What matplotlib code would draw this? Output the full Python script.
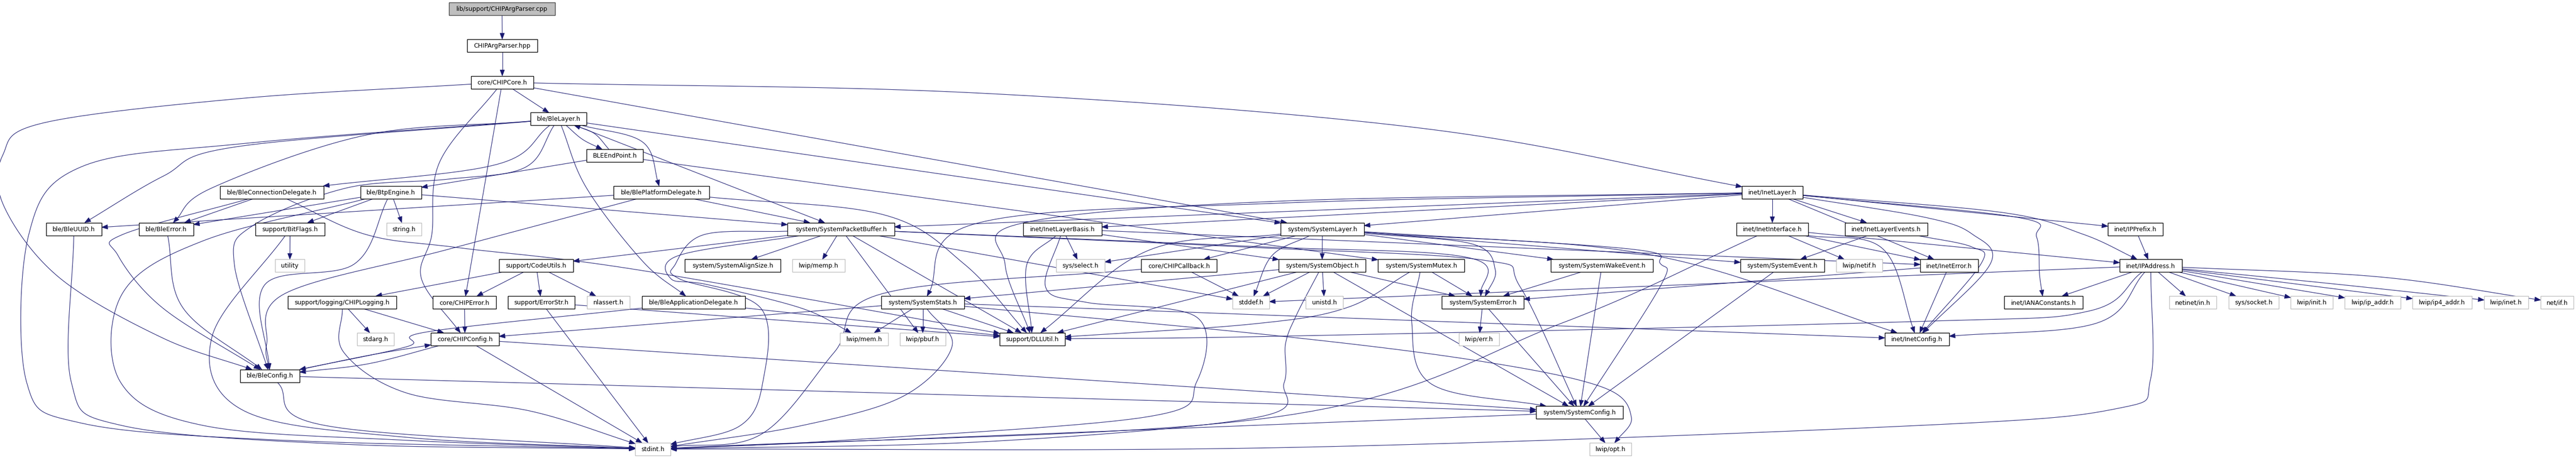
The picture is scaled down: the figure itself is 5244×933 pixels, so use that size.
import matplotlib
matplotlib.use("Agg")
import matplotlib.pyplot as plt
from matplotlib.patches import Rectangle, Polygon
import numpy as np

W, H = 5244, 933

# ---- graph data -------------------------------------------------------
ROOT = "lib/support/CHIPArgParser.cpp"

HEADERS = [
    "CHIPArgParser.hpp", "core/CHIPCore.h", "ble/BleLayer.h", "BLEEndPoint.h",
    "ble/BleConnectionDelegate.h", "ble/BtpEngine.h", "ble/BlePlatformDelegate.h",
    "ble/BleUUID.h", "ble/BleError.h", "support/BitFlags.h", "support/CodeUtils.h",
    "support/logging/CHIPLogging.h", "core/CHIPError.h", "support/ErrorStr.h",
    "core/CHIPConfig.h", "ble/BleConfig.h", "ble/BleApplicationDelegate.h",
    "system/SystemPacketBuffer.h", "system/SystemAlignSize.h", "inet/InetLayerBasis.h",
    "core/CHIPCallback.h", "system/SystemStats.h", "support/DLLUtil.h",
    "inet/InetLayer.h", "system/SystemLayer.h", "inet/InetInterface.h",
    "inet/InetLayerEvents.h", "system/SystemObject.h", "system/SystemMutex.h",
    "system/SystemWakeEvent.h", "system/SystemEvent.h", "inet/InetError.h",
    "system/SystemError.h", "inet/InetConfig.h", "system/SystemConfig.h",
    "inet/IPPrefix.h", "inet/IPAddress.h", "inet/IANAConstants.h",
]

SYSTEM_HEADERS = [
    "string.h", "utility", "nlassert.h", "stdarg.h", "stdint.h", "lwip/memp.h",
    "sys/select.h", "stddef.h", "lwip/mem.h", "lwip/pbuf.h", "unistd.h",
    "lwip/netif.h", "lwip/err.h", "lwip/opt.h", "netinet/in.h", "sys/socket.h",
    "lwip/init.h", "lwip/ip_addr.h", "lwip/ip4_addr.h", "lwip/inet.h", "net/if.h",
]

INCLUDES = {
    ROOT: ["CHIPArgParser.hpp"],
    "CHIPArgParser.hpp": ["core/CHIPCore.h"],
    "core/CHIPCore.h": ["ble/BleLayer.h", "core/CHIPError.h", "core/CHIPConfig.h",
                        "ble/BleConfig.h", "inet/InetLayer.h", "system/SystemLayer.h"],
    "ble/BleLayer.h": ["ble/BleUUID.h", "ble/BleError.h", "stdint.h",
                       "ble/BleConnectionDelegate.h", "ble/BleConfig.h", "BLEEndPoint.h",
                       "ble/BlePlatformDelegate.h", "ble/BleApplicationDelegate.h",
                       "system/SystemPacketBuffer.h", "system/SystemLayer.h"],
    "BLEEndPoint.h": ["ble/BleLayer.h", "ble/BtpEngine.h", "system/SystemMutex.h"],
    "ble/BleConnectionDelegate.h": ["ble/BleError.h", "ble/BleConfig.h", "support/DLLUtil.h"],
    "ble/BtpEngine.h": ["ble/BleError.h", "support/BitFlags.h", "string.h", "ble/BleConfig.h",
                        "stdint.h", "system/SystemPacketBuffer.h"],
    "ble/BlePlatformDelegate.h": ["ble/BleUUID.h", "ble/BleConfig.h",
                                  "system/SystemPacketBuffer.h", "support/DLLUtil.h"],
    "ble/BleUUID.h": ["stdint.h"],
    "ble/BleError.h": ["ble/BleConfig.h"],
    "support/BitFlags.h": ["utility", "stdint.h"],
    "support/CodeUtils.h": ["support/logging/CHIPLogging.h", "core/CHIPError.h",
                            "support/ErrorStr.h", "nlassert.h"],
    "support/logging/CHIPLogging.h": ["stdarg.h", "core/CHIPConfig.h", "stdint.h"],
    "core/CHIPError.h": ["core/CHIPConfig.h"],
    "support/ErrorStr.h": ["stdint.h", "support/DLLUtil.h"],
    "core/CHIPConfig.h": ["ble/BleConfig.h", "stdint.h", "system/SystemConfig.h"],
    "ble/BleConfig.h": ["core/CHIPConfig.h", "stdint.h", "system/SystemConfig.h"],
    "ble/BleApplicationDelegate.h": ["ble/BleConfig.h", "support/DLLUtil.h"],
    "system/SystemPacketBuffer.h": ["system/SystemAlignSize.h", "lwip/memp.h", "lwip/pbuf.h",
                                    "lwip/mem.h", "support/DLLUtil.h", "stddef.h",
                                    "support/CodeUtils.h", "system/SystemError.h",
                                    "system/SystemConfig.h", "stdint.h"],
    "inet/InetLayerBasis.h": ["sys/select.h", "support/DLLUtil.h", "stdint.h",
                              "system/SystemObject.h", "inet/InetError.h"],
    "core/CHIPCallback.h": ["stddef.h", "stdint.h"],
    "system/SystemStats.h": ["lwip/mem.h", "lwip/pbuf.h", "support/DLLUtil.h", "stdint.h",
                             "inet/InetConfig.h", "lwip/opt.h", "core/CHIPConfig.h"],
    "system/SystemLayer.h": ["system/SystemObject.h", "system/SystemWakeEvent.h",
                             "system/SystemEvent.h", "system/SystemError.h",
                             "system/SystemConfig.h", "support/DLLUtil.h", "sys/select.h",
                             "core/CHIPCallback.h", "stddef.h", "inet/InetConfig.h"],
    "system/SystemObject.h": ["stddef.h", "unistd.h", "system/SystemError.h",
                              "system/SystemConfig.h", "system/SystemStats.h",
                              "support/DLLUtil.h", "stdint.h"],
    "system/SystemMutex.h": ["system/SystemError.h", "system/SystemConfig.h",
                             "support/DLLUtil.h"],
    "system/SystemWakeEvent.h": ["system/SystemError.h", "system/SystemConfig.h"],
    "system/SystemEvent.h": ["system/SystemConfig.h"],
    "system/SystemError.h": ["lwip/err.h", "system/SystemConfig.h"],
    "system/SystemConfig.h": ["lwip/opt.h", "stdint.h"],
    "inet/InetLayer.h": ["inet/InetInterface.h", "inet/InetLayerEvents.h", "inet/IPPrefix.h",
                         "inet/IPAddress.h", "inet/IANAConstants.h", "inet/InetConfig.h",
                         "inet/InetError.h", "system/SystemLayer.h", "system/SystemStats.h",
                         "support/DLLUtil.h", "system/SystemPacketBuffer.h",
                         "inet/InetLayerBasis.h"],
    "inet/InetInterface.h": ["lwip/netif.h", "inet/InetError.h", "inet/IPAddress.h",
                             "inet/InetConfig.h", "stdint.h"],
    "inet/InetLayerEvents.h": ["system/SystemEvent.h", "inet/InetConfig.h"],
    "inet/InetError.h": ["inet/InetConfig.h", "system/SystemError.h"],
    "inet/IPPrefix.h": ["inet/IPAddress.h"],
    "inet/IPAddress.h": ["inet/IANAConstants.h", "netinet/in.h", "sys/socket.h", "lwip/init.h",
                         "lwip/ip_addr.h", "lwip/ip4_addr.h", "lwip/inet.h", "net/if.h",
                         "inet/InetConfig.h", "stdint.h", "support/DLLUtil.h", "stddef.h"],
}

# ---- layout (pixel coordinates) ---------------------------------------
LEVEL_Y0, LEVEL_STEP, BOX_H = 18, 74.75, 26

BOXES = {
    ROOT: (914, 1130, 0),
    "CHIPArgParser.hpp": (951, 1094, 1),
    "core/CHIPCore.h": (959, 1086, 2),
    "ble/BleLayer.h": (1080, 1194, 3),
    "BLEEndPoint.h": (1194, 1309, 4),
    "ble/BleConnectionDelegate.h": (448, 659, 5),
    "ble/BtpEngine.h": (734, 858, 5),
    "ble/BlePlatformDelegate.h": (1249, 1444, 5),
    "inet/InetLayer.h": (3546, 3670, 5),
    "ble/BleUUID.h": (94, 207, 6),
    "ble/BleError.h": (283, 394, 6),
    "support/BitFlags.h": (520, 661, 6),
    "string.h": (787, 858, 6),
    "system/SystemPacketBuffer.h": (1603, 1821, 6),
    "inet/InetLayerBasis.h": (2083, 2243, 6),
    "system/SystemLayer.h": (2607, 2777, 6),
    "inet/InetInterface.h": (3535, 3681, 6),
    "inet/InetLayerEvents.h": (3756, 3924, 6),
    "inet/IPPrefix.h": (4291, 4403, 6),
    "utility": (560, 620, 7),
    "support/CodeUtils.h": (1016, 1167, 7),
    "system/SystemAlignSize.h": (1394, 1589, 7),
    "lwip/memp.h": (1613, 1720, 7),
    "sys/select.h": (2150, 2249, 7),
    "core/CHIPCallback.h": (2323, 2477, 7),
    "system/SystemObject.h": (2603, 2780, 7),
    "system/SystemMutex.h": (2805, 2981, 7),
    "system/SystemWakeEvent.h": (3157, 3365, 7),
    "system/SystemEvent.h": (3543, 3714, 7),
    "lwip/netif.h": (3738, 3832, 7),
    "inet/InetError.h": (3909, 4027, 7),
    "inet/IPAddress.h": (4315, 4442, 7),
    "support/logging/CHIPLogging.h": (586, 807, 8),
    "core/CHIPError.h": (881, 1010, 8),
    "support/ErrorStr.h": (1034, 1170, 8),
    "nlassert.h": (1195, 1282, 8),
    "ble/BleApplicationDelegate.h": (1307, 1517, 8),
    "system/SystemStats.h": (1794, 1963, 8),
    "stddef.h": (2509, 2584, 8),
    "unistd.h": (2658, 2734, 8),
    "system/SystemError.h": (2935, 3102, 8),
    "inet/IANAConstants.h": (4080, 4240, 8),
    "netinet/in.h": (4416, 4512, 8),
    "sys/socket.h": (4537, 4639, 8),
    "lwip/init.h": (4663, 4749, 8),
    "lwip/ip_addr.h": (4773, 4887, 8),
    "lwip/ip4_addr.h": (4911, 5032, 8),
    "lwip/inet.h": (5057, 5147, 8),
    "net/if.h": (5172, 5239, 8),
    "stdarg.h": (727, 802, 9),
    "core/CHIPConfig.h": (877, 1016, 9),
    "lwip/mem.h": (1710, 1808, 9),
    "lwip/pbuf.h": (1832, 1925, 9),
    "support/DLLUtil.h": (2035, 2168, 9),
    "lwip/err.h": (2970, 3052, 9),
    "inet/InetConfig.h": (3837, 3968, 9),
    "ble/BleConfig.h": (489, 610, 10),
    "system/SystemConfig.h": (3127, 3304, 11),
    "stdint.h": (1293, 1365, 12),
    "lwip/opt.h": (3236, 3321, 12),
}

# bend points for the edges that dot routed as curves
VIAS = {
    ("core/CHIPCore.h", "ble/BleConfig.h"): [(497, 200), (90, 250), (6, 315), (8, 420), (120, 565), (330, 688)],
    ("core/CHIPCore.h", "core/CHIPConfig.h"): [(895, 330), (879, 478), (858, 568)],
    ("core/CHIPCore.h", "inet/InetLayer.h"): [(2000, 190), (2900, 262)],
    ("ble/BleLayer.h", "ble/BleUUID.h"): [(481, 299), (332, 359)],
    ("ble/BleLayer.h", "ble/BleError.h"): [(746, 275), (431, 383)],
    ("ble/BleLayer.h", "stdint.h"): [(500, 292), (165, 340), (58, 480), (54, 778), (166, 862), (580, 897)],
    ("ble/BleLayer.h", "ble/BleConnectionDelegate.h"): [(1011, 335)],
    ("ble/BleLayer.h", "ble/BleConfig.h"): [(1069, 341), (912, 365), (705, 383), (514, 460), (477, 538)],
    ("ble/BleLayer.h", "ble/BlePlatformDelegate.h"): [(1309, 290)],
    ("ble/BleLayer.h", "ble/BleApplicationDelegate.h"): [(1194, 383), (1309, 533)],
    ("ble/BleLayer.h", "BLEEndPoint.h"): [(1186, 284)],
    ("BLEEndPoint.h", "ble/BleLayer.h"): [(1210, 272)],
    ("ble/BleConnectionDelegate.h", "ble/BleConfig.h"): [(249, 478), (240, 520), (332, 628)],
    ("ble/BleConnectionDelegate.h", "support/DLLUtil.h"): [(746, 478), (937, 505), (1300, 550)],
    ("ble/BtpEngine.h", "ble/BleConfig.h"): [(721, 538), (539, 580)],
    ("ble/BtpEngine.h", "stdint.h"): [(415, 490), (249, 598), (245, 778), (415, 867), (829, 897)],
    ("ble/BlePlatformDelegate.h", "ble/BleConfig.h"): [(912, 508), (580, 598), (543, 700)],
    ("ble/BlePlatformDelegate.h", "support/DLLUtil.h"): [(1797, 437), (1963, 538)],
    ("ble/BleUUID.h", "stdint.h"): [(145, 778), (249, 867), (700, 905)],
    ("ble/BleError.h", "ble/BleConfig.h"): [(373, 628)],
    ("support/BitFlags.h", "stdint.h"): [(431, 688), (497, 837), (829, 891)],
    ("support/logging/CHIPLogging.h", "stdint.h"): [(700, 718), (829, 801), (1078, 837)],
    ("ble/BleConfig.h", "core/CHIPConfig.h"): [(750, 724)],
    ("core/CHIPConfig.h", "ble/BleConfig.h"): [(750, 741)],
    ("ble/BleConfig.h", "stdint.h"): [(663, 867)],
    ("ble/BleApplicationDelegate.h", "ble/BleConfig.h"): [(870, 676), (829, 706)],
    ("system/SystemPacketBuffer.h", "lwip/mem.h"): [(1383, 520), (1366, 568), (1441, 580), (1632, 628)],
    ("system/SystemPacketBuffer.h", "stdint.h"): [(1433, 478), (1375, 538), (1383, 568), (1549, 628), (1553, 778), (1507, 867)],
    ("system/SystemPacketBuffer.h", "system/SystemError.h"): [(2550, 502), (2990, 525)],
    ("system/SystemPacketBuffer.h", "system/SystemConfig.h"): [(2550, 504), (3020, 530), (3095, 585)],
    ("inet/InetLayerBasis.h", "support/DLLUtil.h"): [(2090, 540)],
    ("inet/InetLayerBasis.h", "stdint.h"): [(2129, 586), (2212, 616), (2436, 646), (2436, 778), (2336, 849), (1715, 897)],
    ("core/CHIPCallback.h", "stdint.h"): [(1797, 598), (1698, 718), (1549, 885)],
    ("system/SystemStats.h", "stdint.h"): [(1938, 706), (1839, 807), (1632, 867)],
    ("system/SystemStats.h", "lwip/opt.h"): [(2600, 684), (3015, 736), (3263, 789), (3321, 850)],
    ("system/SystemLayer.h", "system/SystemError.h"): [(2997, 497), (3044, 550)],
    ("system/SystemLayer.h", "system/SystemConfig.h"): [(3316, 507), (3380, 537), (3380, 583)],
    ("system/SystemLayer.h", "support/DLLUtil.h"): [(2338, 510)],
    ("system/SystemLayer.h", "stddef.h"): [(2590, 520)],
    ("system/SystemLayer.h", "inet/InetConfig.h"): [(3365, 520)],
    ("system/SystemObject.h", "stdint.h"): [(2640, 640), (2617, 700), (2614, 780), (2560, 850), (2000, 900)],
    ("system/SystemMutex.h", "system/SystemConfig.h"): [(2874, 658), (2915, 783)],
    ("system/SystemMutex.h", "support/DLLUtil.h"): [(2741, 627), (2550, 660)],
    ("inet/InetLayer.h", "inet/IPAddress.h"): [(4077, 433), (4240, 477)],
    ("inet/InetLayer.h", "inet/IANAConstants.h"): [(4108, 443), (4146, 483), (4152, 560)],
    ("inet/InetLayer.h", "inet/InetConfig.h"): [(3920, 443), (4015, 477), (4052, 537)],
    ("inet/InetLayer.h", "system/SystemStats.h"): [(2600, 414), (1988, 455)],
    ("inet/InetLayer.h", "support/DLLUtil.h"): [(2600, 410), (2079, 455), (2046, 538)],
    ("inet/InetInterface.h", "inet/InetConfig.h"): [(3833, 507)],
    ("inet/InetInterface.h", "stdint.h"): [(3180, 658), (2600, 849)],
    ("inet/InetLayerEvents.h", "inet/InetConfig.h"): [(4014, 503), (4033, 537)],
    ("inet/IPAddress.h", "inet/InetConfig.h"): [(4269, 658)],
    ("inet/IPAddress.h", "support/DLLUtil.h"): [(4251, 634), (3900, 655), (2600, 685)],
    ("inet/IPAddress.h", "stdint.h"): [(4378, 772), (4311, 832), (3900, 867), (2600, 912)],
    ("inet/IPAddress.h", "net/if.h"): [(4843, 564)],
    ("inet/IPAddress.h", "lwip/inet.h"): [(4757, 579)],
}

EDGE_COLOR = "#191970"
ARROW_LEN, ARROW_HALF = 12.0, 4.5


def box_rect(name):
    xl, xr, lvl = BOXES[name]
    yc = LEVEL_Y0 + lvl * LEVEL_STEP
    return xl, xr, yc - BOX_H / 2, yc + BOX_H / 2


def center(name):
    x0, x1, y0, y1 = box_rect(name)
    return np.array([(x0 + x1) / 2, (y0 + y1) / 2])


def clip(name, toward):
    """Point where the ray from the box centre to `toward` leaves the box."""
    x0, x1, y0, y1 = box_rect(name)
    c = center(name)
    d = np.asarray(toward, float) - c
    tx = (x1 - x0) / 2 / abs(d[0]) if d[0] else np.inf
    ty = (y1 - y0) / 2 / abs(d[1]) if d[1] else np.inf
    return c + min(tx, ty) * d


def catmull_rom(pts, n=24):
    pts = np.asarray(pts, float)
    if len(pts) == 2:
        return np.linspace(pts[0], pts[1], n)
    ext = np.vstack([2 * pts[0] - pts[1], pts, 2 * pts[-1] - pts[-2]])
    out = []
    for i in range(1, len(ext) - 2):
        p0, p1, p2, p3 = ext[i - 1], ext[i], ext[i + 1], ext[i + 2]
        for t in np.linspace(0, 1, n, endpoint=False):
            t2, t3 = t * t, t * t * t
            out.append(0.5 * (2 * p1 + (-p0 + p2) * t + (2 * p0 - 5 * p1 + 4 * p2 - p3) * t2
                              + (-p0 + 3 * p1 - 3 * p2 + p3) * t3))
    out.append(pts[-1])
    return np.array(out)


fig = plt.figure(figsize=(W / 100, H / 100), dpi=100)
ax = fig.add_axes([0, 0, 1, 1])
ax.set_xlim(0, W)
ax.set_ylim(H, 0)
ax.axis("off")

# ---- edges ------------------------------------------------------------
for src, targets in INCLUDES.items():
    for dst in targets:
        vias = VIAS.get((src, dst), [])
        first = vias[0] if vias else center(dst)
        last = vias[-1] if vias else center(src)
        pts = [clip(src, first)] + [np.array(v, float) for v in vias] + [clip(dst, last)]
        curve = catmull_rom(pts)
        tip = curve[-1]
        dist = np.hypot(*(curve - tip).T)
        idx = np.where(dist >= ARROW_LEN)[0]
        ref = curve[idx[-1]] if len(idx) else curve[0]
        u = (tip - ref) / max(np.hypot(*(tip - ref)), 1e-9)
        base = tip - ARROW_LEN * u
        line = np.vstack([curve[dist >= ARROW_LEN], base])
        ax.plot(line[:, 0], line[:, 1], color=EDGE_COLOR, lw=0.8, zorder=1,
                solid_capstyle="butt")
        nrm = np.array([-u[1], u[0]])
        ax.add_patch(Polygon([tip, base + ARROW_HALF * nrm, base - ARROW_HALF * nrm],
                             closed=True, facecolor=EDGE_COLOR, edgecolor=EDGE_COLOR,
                             lw=0.6, zorder=2))

# ---- nodes ------------------------------------------------------------
renderer = fig.canvas.get_renderer()
for name in [ROOT] + HEADERS + SYSTEM_HEADERS:
    x0, x1, y0, y1 = box_rect(name)
    if name == ROOT:
        fc, ec = "#bfbfbf", "#404040"
    elif name in SYSTEM_HEADERS:
        fc, ec = "white", "#bfbfbf"
    else:
        fc, ec = "white", "black"
    ax.add_patch(Rectangle((x0, y0), x1 - x0, y1 - y0, facecolor=fc, edgecolor=ec,
                           lw=1.0, zorder=3))
    txt = ax.text((x0 + x1) / 2, (y0 + y1) / 2 + 0.5, name, ha="center", va="center",
                  fontsize=9, family="DejaVu Sans", color="black", zorder=4)
    bb = txt.get_window_extent(renderer)
    room = (x1 - x0) - 10
    if bb.width > room:
        txt.set_fontsize(9 * room / bb.width)

fig.savefig("out.png", dpi=100, facecolor="white")
